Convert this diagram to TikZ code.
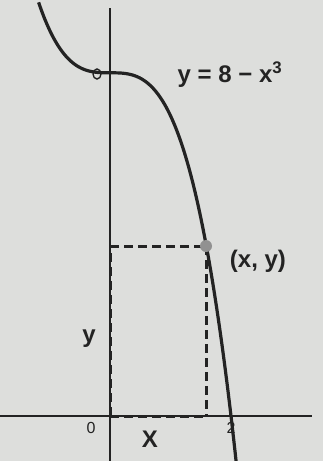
\documentclass[tikz,border=0pt]{standalone}
\usepackage{fontspec}
\usetikzlibrary{shapes.geometric}
\setmainfont{Liberation Sans}
\definecolor{paper}{RGB}{221,222,220}
\definecolor{ink}{RGB}{35,35,35}
\tikzset{
  axis/.style={draw=ink, line width=2.2pt},
  curve/.style={draw=ink, line width=3.2pt},
  guide/.style={draw=ink, line width=3pt, dash pattern=on 9pt off 5pt},
  lbl/.style={text=ink, font=\fontsize{24}{26}\selectfont\bfseries, inner sep=0pt},
  tick/.style={text=ink, font=\fontsize{16}{18}\selectfont, inner sep=0pt}
}
\begin{document}
\begin{tikzpicture}[x=1pt,y=-1pt]
\fill[paper] (0,0) rectangle (323,461);
\useasboundingbox (0,0) rectangle (323,461);
% axes
\coordinate (ytop) at (110,8);
\coordinate (ybot) at (110,461);
\coordinate (xl) at (0,416);
\coordinate (xr) at (312,416);
\coordinate (O) at (110,416);
\draw[axis] (ytop) -- (ybot);
\draw[axis] (xl) -- (xr);
% point and dashed rectangle
\coordinate (P) at (206,246);
\coordinate (Py) at (110,246);
\coordinate (Px) at (206,416);
\draw[guide] (Py) -- (P);
\draw[guide] (P) -- (Px);
\draw[guide] (O) -- (Px);
\draw[guide] (O) -- (Py);
% curve
\clip (0,0) rectangle (323,461);
\draw[curve] plot[domain=-1.18:2.09, samples=120, smooth] ({110+60.5*\x},{416-42.9*(8-\x*\x*\x)});
% markers
\node[ellipse, draw=ink, line width=1.4pt, minimum width=8pt, minimum height=10pt, inner sep=0pt] (hole) at (97,74) {};
\node[circle, fill=ink!50, minimum size=12pt, inner sep=0pt] (dot) at (P) {};
% labels
\node[lbl] (eq) at (230,75) {y = 8 − x\textsuperscript{3}};
\node[lbl] (pt) at (258,261) {(x, y)};
\node[lbl] (ylab) at (89,339) {y};
\node[lbl] (xlab) at (150,439) {X};
\node[tick] (zero) at (91,428) {0};
\node[tick] (two) at (231,428) {2};
\end{tikzpicture}
\end{document}
